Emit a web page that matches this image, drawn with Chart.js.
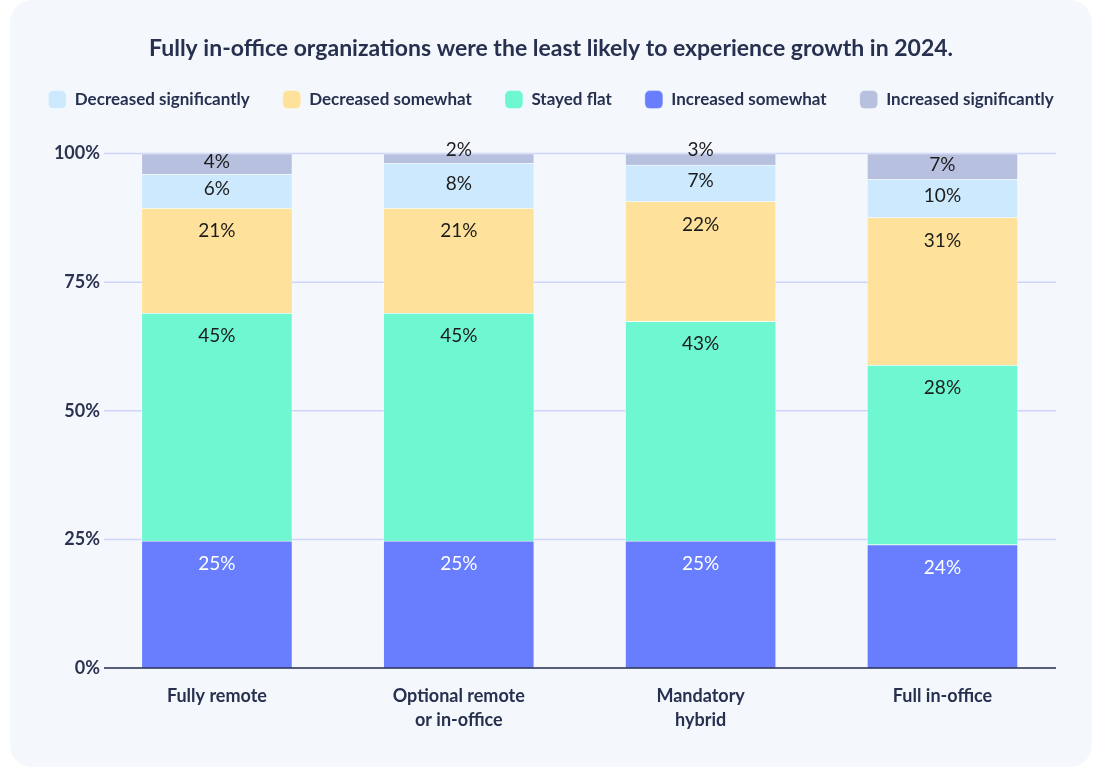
<!DOCTYPE html>
<html>
<head>
<meta charset="utf-8">
<script src="https://cdn.jsdelivr.net/npm/chart.js@4"></script>
<style>
  html, body { margin: 0; padding: 0; background: #ffffff; }
  .card {
    position: absolute; left: 10px; top: 0; width: 1082px; height: 767px;
    background: #f4f8fc; border-radius: 22px; overflow: hidden;
  }
  canvas { display: block; }
</style>
</head>
<body>
<div class="card"><canvas id="myChart" width="1082" height="767"></canvas></div>
<script>
// categories (multi-line labels)
var categories = [["Fully remote"], ["Optional remote", "or in-office"], ["Mandatory", "hybrid"], ["Full in-office"]];

// segment heights, stacked bottom to top
var increasedSomewhat = [24.7, 24.7, 24.7, 24.0];
var stayedFlat = [44.3, 44.3, 42.7, 34.9];
var decreasedSomewhat = [20.4, 20.4, 23.3, 28.7];
var decreasedSignificantly = [6.6, 8.7, 7.1, 7.4];
var increasedSignificantly = [4.0, 1.9, 2.2, 5.0];

// percentages printed on the segments
var increasedSomewhatLabels = [25, 25, 25, 24];
var stayedFlatLabels = [45, 45, 43, 28];
var decreasedSomewhatLabels = [21, 21, 22, 31];
var decreasedSignificantlyLabels = [6, 8, 7, 10];
var increasedSignificantlyLabels = [4, 2, 3, 7];

var yTicks = [0, 25, 50, 75, 100];

// legend shows series in this order (dataset indexes)
var legendOrder = [3, 2, 1, 0, 4];

const ink = "#27304f";
const gridLeft = 94, gridRight = 1046;   // grid lines are a bit shorter than the category band
const tickRight = 90;                     // right edge of the y tick text

const data = {
    labels: categories,
    datasets: [
        { label: "Increased somewhat", data: increasedSomewhat, valueLabels: increasedSomewhatLabels, backgroundColor: "#687eff", labelColor: "#ffffff" },
        { label: "Stayed flat", data: stayedFlat, valueLabels: stayedFlatLabels, backgroundColor: "#6ff7d2" },
        { label: "Decreased somewhat", data: decreasedSomewhat, valueLabels: decreasedSomewhatLabels, backgroundColor: "#fee19a" },
        { label: "Decreased significantly", data: decreasedSignificantly, valueLabels: decreasedSignificantlyLabels, backgroundColor: "#cde9fe" },
        { label: "Increased significantly", data: increasedSignificantly, valueLabels: increasedSignificantlyLabels, backgroundColor: "#b8c0e0" },
    ].map(ds => Object.assign(ds, {
        barThickness: 151,
        borderWidth: 1,
        borderColor: "rgba(255,255,255,0.35)",
        borderSkipped: "start",
        clip: false
    })),
};

// empty boxes: gap under the legend, margin right of the plot
function spacer(position, size) {
    return {
        position: position,
        weight: 500,
        fullSize: position === "top",
        options: {},
        isHorizontal() { return position === "top"; },
        update(maxWidth, maxHeight) {
            if (position === "top") { this.width = maxWidth; this.height = size; }
            else { this.width = size; this.height = maxHeight; }
        },
        draw() {}
    };
}
const spacers = {
    id: "spacers",
    beforeInit(chart) {
        Chart.layouts.addBox(chart, spacer("top", 35));
        Chart.layouts.addBox(chart, spacer("right", 28.6));
    }
};

// horizontal grid, baseline and y tick text
const gridLines = {
    id: "gridLines",
    beforeDatasetsDraw(chart) {
        const ctx = chart.ctx, y = chart.scales.y;
        ctx.save();
        ctx.strokeStyle = "#cdd3fb";
        ctx.lineWidth = 1.5;
        yTicks.forEach(v => {
            const py = y.getPixelForValue(v);
            ctx.beginPath();
            ctx.moveTo(gridLeft, py);
            ctx.lineTo(gridRight, py);
            ctx.stroke();
        });
        ctx.restore();
    },
    afterDatasetsDraw(chart) {
        const ctx = chart.ctx, y = chart.scales.y, py = y.getPixelForValue(0);
        ctx.save();
        ctx.strokeStyle = "#2b3350";
        ctx.lineWidth = 1.5;
        ctx.beginPath();
        ctx.moveTo(gridLeft, py);
        ctx.lineTo(gridRight, py);
        ctx.stroke();
        ctx.font = "bold 18px Lato";
        ctx.fillStyle = "#2b3350";
        ctx.textAlign = "right";
        ctx.textBaseline = "middle";
        yTicks.forEach(v => ctx.fillText(v + "%", tickRight, y.getPixelForValue(v)));
        ctx.restore();
    }
};

// % text near the top of each segment
const segmentLabels = {
    id: "segmentLabels",
    afterDraw(chart) {
        const ctx = chart.ctx;
        ctx.save();
        ctx.font = "19px Lato";
        ctx.textAlign = "center";
        ctx.textBaseline = "middle";
        chart.data.datasets.forEach((ds, i) => {
            chart.getDatasetMeta(i).data.forEach((bar, j) => {
                const top = Math.min(bar.y, bar.base);
                const h = Math.abs(bar.base - bar.y);
                const y = h < 14 ? top - 4 : top + Math.min(h / 2 - 2, 23);
                ctx.fillStyle = ds.labelColor || "#1c1c1c";
                ctx.fillText(ds.valueLabels[j] + "%", bar.x, y);
            });
        });
        ctx.restore();
    }
};

const config = {
    type: "bar",
    data: data,
    options: {
        responsive: false,
        animation: false,
        layout: { padding: 0 },
        plugins: {
            title: {
                display: true,
                text: "Fully in-office organizations were the least likely to experience growth in 2024.",
                color: ink,
                font: { family: "Lato", size: 23, weight: "bold" },
                padding: { top: 35, bottom: -5 }
            },
            legend: {
                display: true,
                labels: {
                    color: ink,
                    font: { family: "Lato", size: 17, weight: "bold" },
                    boxWidth: 18,
                    boxHeight: 18,
                    useBorderRadius: true,
                    borderRadius: 5,
                    padding: 33,
                    sort: (a, b) => legendOrder.indexOf(a.datasetIndex) - legendOrder.indexOf(b.datasetIndex)
                }
            },
            tooltip: { enabled: false }
        },
        scales: {
            x: {
                stacked: true,
                grid: { display: false },
                border: { display: false },
                ticks: {
                    color: ink,
                    font: { family: "Lato", size: 18, weight: "bold", lineHeight: 1.35 },
                    padding: 8,
                    maxRotation: 0,
                    autoSkip: false
                },
                afterFit(scale) { scale.height = 99; }
            },
            y: {
                stacked: true,
                min: 0,
                max: 100,
                afterBuildTicks(scale) { scale.ticks = yTicks.map(v => ({ value: v })); },
                grid: { display: false, drawTicks: false },
                border: { display: false },
                ticks: { display: false },
                afterFit(scale) { scale.width = 86; }
            }
        }
    },
    plugins: [spacers, gridLines, segmentLabels]
};
const myChart = new Chart(document.getElementById("myChart"), config);
</script>
</body>
</html>
